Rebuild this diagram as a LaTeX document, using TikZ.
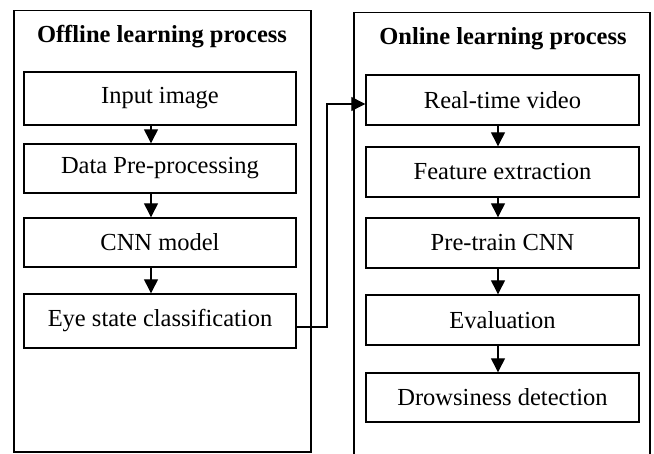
\documentclass[tikz,border=0pt]{standalone}
\usepackage{fontspec}
\setmainfont{Liberation Serif}
\usetikzlibrary{arrows.meta}
\begin{document}
\begin{tikzpicture}[x=1pt,y=-1pt,
  frame/.style={draw, line width=1.3pt},
  stepbox/.style={draw, line width=1.4pt, rectangle, inner sep=0pt, minimum height=50pt,
    font=\fontsize{24.5}{29}\selectfont},
  ttl/.style={font=\fontsize{24.5}{29}\selectfont\bfseries, inner sep=0pt},
  flow/.style={line width=1.3pt, -{Triangle[length=14pt,width=14pt]}}]
\useasboundingbox (0,0) rectangle (654,454);
% outer frames
\draw[frame] (14,10.5) rectangle (311,452);
\draw[frame] (354,470) -- (354,12.5) -- (650,12.5) -- (650,470);
\node[ttl] (t1) at (162,37) {Offline learning process};
\node[ttl] (t2) at (503,39) {Online learning process};
% left column
\node[stepbox, minimum width=272pt, minimum height=53pt] (in) at (160,98.5) {Input image};
\node[stepbox, minimum width=272pt, minimum height=49pt] (dp) at (160,168.5) {Data Pre-processing};
\node[stepbox, minimum width=272pt, minimum height=49pt] (cnn) at (160,242.5) {CNN model};
\node[stepbox, minimum width=272pt, minimum height=54pt] (eye) at (160,321) {Eye state classification};
% right column
\node[stepbox, minimum width=273pt] (rt) at (502.5,100) {Real-time video};
\node[stepbox, minimum width=273pt] (fe) at (502.5,172) {Feature extraction};
\node[stepbox, minimum width=273pt] (pt) at (502.5,243) {Pre-train CNN};
\node[stepbox, minimum width=273pt] (ev) at (502.5,320) {Evaluation};
\node[stepbox, minimum width=273pt, minimum height=49pt] (dr) at (502.5,397.5) {Drowsiness detection};
% arrows
\coordinate (lx) at (151,0);
\coordinate (rx) at (498,0);
\draw[flow] (in.south -| lx) -- (dp.north -| lx);
\draw[flow] (dp.south -| lx) -- (cnn.north -| lx);
\draw[flow] (cnn.south -| lx) -- (eye.north -| lx);
\draw[flow] (rt.south -| rx) -- (fe.north -| rx);
\draw[flow] (fe.south -| rx) -- (pt.north -| rx);
\draw[flow] (pt.south -| rx) -- (ev.north -| rx);
\draw[flow] (ev.south -| rx) -- (dr.north -| rx);
\coordinate (cx) at (327,0);
\coordinate (eout) at ([yshift=-6pt]eye.east);
\coordinate (rin) at ([yshift=-4pt]rt.west);
\draw[flow] (eout) -| (cx |- rin) -- (rin);
\end{tikzpicture}
\end{document}
